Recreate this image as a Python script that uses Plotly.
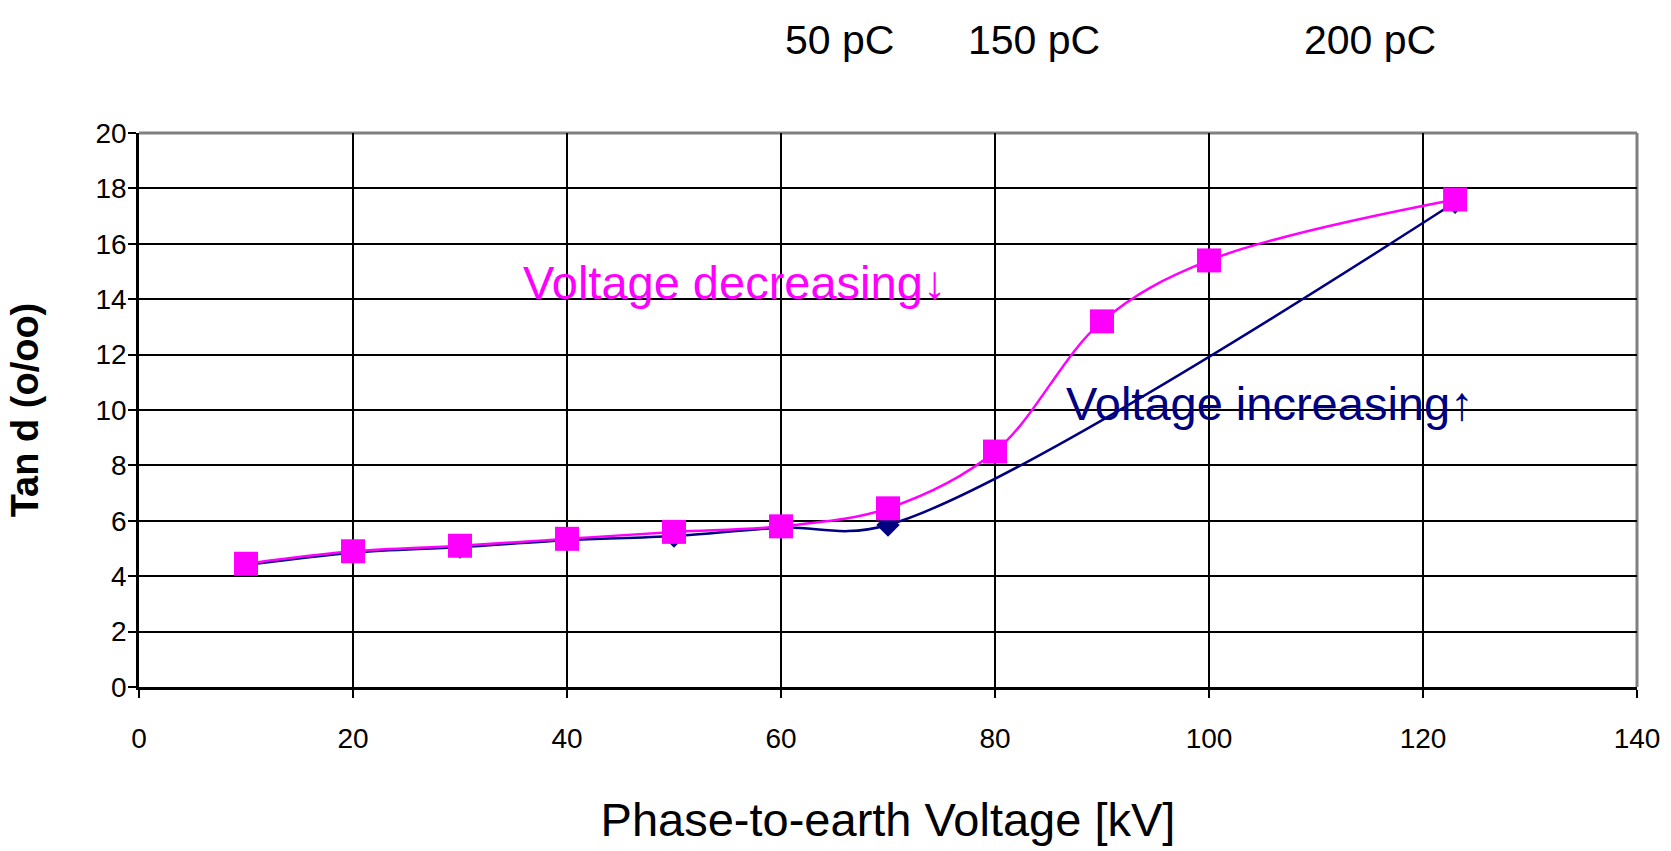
import plotly.graph_objects as go

# Data
x_increasing = [10, 20, 30, 40, 50, 60, 70, 123]
y_increasing = [4.4, 4.85, 5.05, 5.3, 5.45, 5.75, 5.85, 17.5]
x_decreasing = [10, 20, 30, 40, 50, 60, 70, 80, 90, 100, 123]
y_decreasing = [4.45, 4.9, 5.1, 5.35, 5.6, 5.8, 6.45, 8.5, 13.2, 15.4, 17.6]

x_ticks = [0, 20, 40, 60, 80, 100, 120, 140]
y_ticks = [0, 2, 4, 6, 8, 10, 12, 14, 16, 18, 20]

pc_labels = ["50 pC", "150 pC", "200 pC"]
pc_label_x = [65.5, 83.6, 115.0]

FONT = "Liberation Sans, Arial, sans-serif"
NAVY = "#000080"
MAGENTA = "#FF00FF"

fig = go.Figure()

fig.add_trace(go.Scatter(
    x=x_increasing, y=y_increasing, mode="lines+markers",
    line=dict(color=NAVY, width=2.5, shape="spline", smoothing=1),
    marker=dict(symbol="diamond", size=18, color=NAVY),
    showlegend=False, name="Voltage increasing",
))
fig.add_trace(go.Scatter(
    x=x_decreasing, y=y_decreasing, mode="lines+markers",
    line=dict(color=MAGENTA, width=2.5, shape="spline", smoothing=1),
    marker=dict(symbol="square", size=24, color=MAGENTA),
    showlegend=False, name="Voltage decreasing",
))

# Grey frame on top / right
fig.add_shape(type="line", xref="paper", yref="paper", x0=0, x1=1, y0=1, y1=1,
              line=dict(color="#808080", width=3), layer="below")
fig.add_shape(type="line", xref="paper", yref="paper", x0=1, x1=1, y0=0, y1=1,
              line=dict(color="#808080", width=3), layer="below")

for lbl, xv in zip(pc_labels, pc_label_x):
    fig.add_annotation(x=xv, y=1.168, xref="x", yref="paper", text=lbl,
                       showarrow=False, xanchor="center", yanchor="middle",
                       font=dict(family=FONT, size=41, color="black"))

fig.add_annotation(x=55.7, y=14.62, xref="x", yref="y", text="Voltage decreasing↓",
                   showarrow=False, xanchor="center", yanchor="middle",
                   font=dict(family=FONT, size=47, color=MAGENTA))
fig.add_annotation(x=105.7, y=10.25, xref="x", yref="y", text="Voltage increasing↑",
                   showarrow=False, xanchor="center", yanchor="middle",
                   font=dict(family=FONT, size=47, color=NAVY))

fig.update_layout(
    width=1671, height=851,
    margin=dict(l=139, r=34, t=133, b=164),
    paper_bgcolor="white", plot_bgcolor="white",
    font=dict(family=FONT, color="black"),
    xaxis=dict(
        range=[0, 140], tickvals=x_ticks, ticktext=[str(v) for v in x_ticks],
        showgrid=True, gridcolor="black", gridwidth=1.5,
        showline=True, linecolor="black", linewidth=2.5,
        ticks="outside", ticklen=8, tickcolor="black", tickwidth=2,
        tickfont=dict(family=FONT, size=28, color="black"),
        ticklabelstandoff=17,
        zeroline=False,
        title=dict(text="Phase-to-earth Voltage [kV]",
                   font=dict(family=FONT, size=47, color="black"), standoff=50),
    ),
    yaxis=dict(
        range=[0, 20], tickvals=y_ticks, ticktext=[str(v) for v in y_ticks],
        showgrid=True, gridcolor="black", gridwidth=1.5,
        showline=True, linecolor="black", linewidth=2.5,
        ticks="outside", ticklen=8, tickcolor="black", tickwidth=2,
        tickfont=dict(family=FONT, size=28, color="black"),
        ticklabelstandoff=-4,
        zeroline=False,
        title=dict(text="<b>Tan d (o/oo)</b>",
                   font=dict(family=FONT, size=38, color="black"), standoff=46),
    ),
)

fig.write_html("out.html")
